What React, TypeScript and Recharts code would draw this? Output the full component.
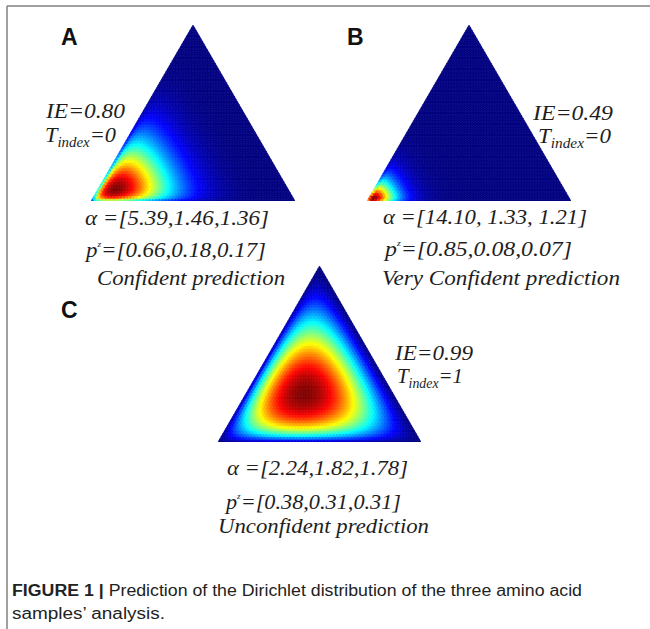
import React from 'react';
import { ScatterChart, Scatter, XAxis, YAxis } from 'recharts';

// ---- data ----
const panelLetters = ['A', 'B', 'C'];
const alphaA = [5.39, 1.46, 1.36];
const alphaB = [14.1, 1.33, 1.21];
const alphaC = [2.24, 1.82, 1.78];
const alphaLabels = ['[5.39,1.46,1.36]', '[14.10, 1.33, 1.21]', '[2.24,1.82,1.78]'];
const pzLabels = ['[0.66,0.18,0.17]', '[0.85,0.08,0.07]', '[0.38,0.31,0.31]'];
const ieLabels = ['0.80', '0.49', '0.99'];
const tIndexLabels = ['0', '0', '1'];
const verdictLabels = ['Confident prediction', 'Very Confident prediction', 'Unconfident prediction'];
const captionBold = 'FIGURE 1 |';
const captionLine1 = ' Prediction of the Dirichlet distribution of the three amino acid';
const captionLine2 = 'samples\u2019 analysis.';

// ---- rendering helpers ----
const N = 64; // subdivisions of the simplex grid
const TRI_Y = Math.sqrt(3) / 2;

const clamp = (v: number) => Math.max(0, Math.min(1, v));
const jet = (v: number) => {
  const r = clamp(1.5 - Math.abs(4 * v - 3));
  const g = clamp(1.5 - Math.abs(4 * v - 2));
  const b = clamp(1.5 - Math.abs(4 * v - 1));
  return `rgb(${Math.round(r * 255)},${Math.round(g * 255)},${Math.round(b * 255)})`;
};

type Cell = { x: number; y: number; up: boolean; logf: number; fill?: string };

function buildCells(alpha: number[]): Cell[] {
  const cells: Cell[] = [];
  const push = (a: number, b: number, up: boolean) => {
    const b3 = b / N;
    const b2 = a / N;
    const b1 = 1 - b2 - b3;
    const logf =
      (alpha[0] - 1) * Math.log(b1) + (alpha[1] - 1) * Math.log(b2) + (alpha[2] - 1) * Math.log(b3);
    cells.push({ x: (a + b / 2) / N, y: (b * TRI_Y) / N, up, logf });
  };
  for (let j = 0; j < N; j++) {
    for (let i = 0; i < N - j; i++) {
      push(i + 1 / 3, j + 1 / 3, true);
      if (i < N - j - 1) push(i + 2 / 3, j + 2 / 3, false);
    }
  }
  let mx = -Infinity;
  cells.forEach((c) => (mx = Math.max(mx, c.logf)));
  cells.forEach((c) => (c.fill = jet(Math.exp(c.logf - mx))));
  return cells;
}

const panels = [
  { alpha: alphaA, left: 91, top: 25, w: 204, h: 176 },
  { alpha: alphaB, left: 367, top: 25, w: 204, h: 176 },
  { alpha: alphaC, left: 218, top: 266, w: 203, h: 176 },
];

function TrianglePanel({ alpha, left, top, w, h }: any) {
  const data = React.useMemo(() => buildCells(alpha), [alpha]);
  const S = w / N;
  const H = h / N;
  const shape = (props: any) => {
    const { cx, cy, payload } = props;
    const pts = payload.up
      ? `${cx - S / 2},${cy + H / 3} ${cx + S / 2},${cy + H / 3} ${cx},${cy - (2 * H) / 3}`
      : `${cx - S / 2},${cy - H / 3} ${cx + S / 2},${cy - H / 3} ${cx},${cy + (2 * H) / 3}`;
    return <polygon points={pts} fill={payload.fill} stroke={payload.fill} strokeWidth={0.6} />;
  };
  return (
    <div style={{ position: 'absolute', left, top }}>
      <ScatterChart width={w} height={h} margin={{ top: 0, right: 0, bottom: 0, left: 0 }}>
        <XAxis type="number" dataKey="x" domain={[0, 1]} hide />
        <YAxis type="number" dataKey="y" domain={[0, TRI_Y]} hide />
        <Scatter data={data} shape={shape} isAnimationActive={false} />
      </ScatterChart>
    </div>
  );
}

const serif = { fontFamily: '"Liberation Serif", "Times New Roman", serif', fontStyle: 'italic' as const, fill: '#1e1e1e' };

function TextBlock({ i, ie, t, al, pz, vd }: any) {
  return (
    <g>
      <text x={ie[0]} y={ie[1]} fontSize={21} textLength={ie[2]} lengthAdjust="spacingAndGlyphs" style={serif}>
        {`IE=${ieLabels[i]}`}
      </text>
      <text x={t[0]} y={t[1]} fontSize={21} textLength={t[2]} lengthAdjust="spacingAndGlyphs" style={serif}>
        T
        <tspan fontSize={14} dy={5}>index</tspan>
        <tspan fontSize={21} dy={-5}>{`=${tIndexLabels[i]}`}</tspan>
      </text>
      <text x={al[0]} y={al[1]} fontSize={22} textLength={al[2]} lengthAdjust="spacingAndGlyphs" style={serif}>
        {`\u03b1 =${alphaLabels[i]}`}
      </text>
      <text x={pz[0]} y={pz[1]} fontSize={22} textLength={pz[2]} lengthAdjust="spacingAndGlyphs" style={serif}>
        p
        <tspan fontSize={9} dy={-10}>z</tspan>
        <tspan fontSize={22} dy={10}>{`=${pzLabels[i]}`}</tspan>
      </text>
      <text x={vd[0]} y={vd[1]} fontSize={22} textLength={vd[2]} lengthAdjust="spacingAndGlyphs" style={serif}>
        {verdictLabels[i]}
      </text>
    </g>
  );
}

const letterStyle = { fontFamily: '"Liberation Sans", Arial, sans-serif', fontWeight: 700, fill: '#111' };

export default function App() {
  return (
    <div style={{ position: 'absolute', left: 0, top: 0, width: 650, height: 629, background: '#fff', overflow: 'hidden' }}>
      <svg width={650} height={629} style={{ position: 'absolute', left: 0, top: 0 }}>
        <line x1={7} y1={6} x2={650} y2={6} stroke="#808080" strokeWidth={1.5} />
        <line x1={7} y1={6} x2={7} y2={629} stroke="#808080" strokeWidth={1.5} />
        <text x={61} y={45} fontSize={23} style={letterStyle}>{panelLetters[0]}</text>
        <text x={347} y={45} fontSize={23} style={letterStyle}>{panelLetters[1]}</text>
        <text x={61} y={318} fontSize={23} style={letterStyle}>{panelLetters[2]}</text>
        <TextBlock i={0} ie={[46, 118, 79]} t={[45, 142, 71]} al={[85, 225, 184]} pz={[86, 257, 180]} vd={[97, 285, 188]} />
        <TextBlock i={1} ie={[533, 120, 80]} t={[538, 143, 73]} al={[383, 224, 204]} pz={[385, 256, 187]} vd={[382, 285, 238]} />
        <TextBlock i={2} ie={[395, 360, 78]} t={[397, 383, 66]} al={[227, 475, 181]} pz={[226, 509, 175]} vd={[218, 533, 211]} />
        <text x={12} y={596} fontSize={16} textLength={570} lengthAdjust="spacingAndGlyphs"
          style={{ fontFamily: '"Liberation Sans", Arial, sans-serif', fill: '#222' }}>
          <tspan fontWeight={700}>{captionBold}</tspan>
          {captionLine1}
        </text>
        <text x={12} y={619} fontSize={16} textLength={153} lengthAdjust="spacingAndGlyphs"
          style={{ fontFamily: '"Liberation Sans", Arial, sans-serif', fill: '#222' }}>
          {captionLine2}
        </text>
      </svg>
      {panels.map((p, k) => (
        <TrianglePanel key={k} {...p} />
      ))}
    </div>
  );
}
